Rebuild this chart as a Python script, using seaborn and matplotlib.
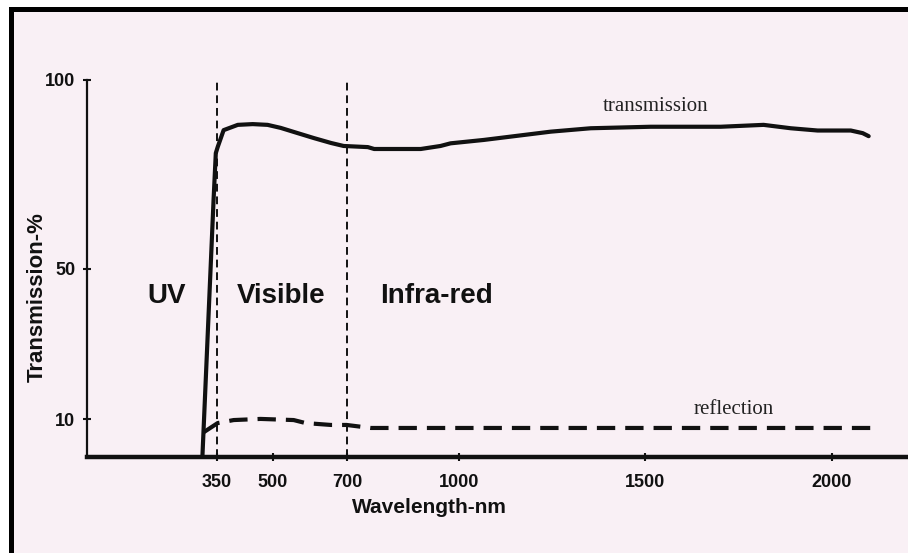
import numpy as np
import pandas as pd
import seaborn as sns
import matplotlib.pyplot as plt
from matplotlib.patches import Rectangle

# values
trans_wl = [311, 341, 347, 352, 368, 406, 446, 486, 521, 567, 610, 656, 690, 755, 772,
            897, 950, 977, 1066, 1246, 1353, 1514, 1702, 1817, 1890, 1962, 2051, 2083, 2099]
trans_pct = [0, 68.2, 80.6, 82.2, 86.7, 88.1, 88.3, 88.1, 87.3, 85.9, 84.6, 83.3, 82.5, 82.2, 81.7,
             81.7, 82.5, 83.2, 84.1, 86.3, 87.2, 87.6, 87.6, 88.1, 87.2, 86.6, 86.6, 85.9, 85.1]

refl_wl = [315, 352, 395, 467, 556, 588, 656, 698, 763, 1058, 2104]
refl_pct = [6.6, 9.0, 9.8, 10.1, 9.8, 9.0, 8.5, 8.5, 7.7, 7.7, 7.7]

region_edges = [350, 700]
x_ticks = [350, 500, 700, 1000, 1500, 2000]
y_ticks = [10, 50, 100]

bg = "#f9f0f5"
ink = "#111111"

sns.set_style("white")
plt.rcParams["font.family"] = ["Liberation Sans", "DejaVu Sans"]

fig = plt.figure(figsize=(9.08, 5.53), dpi=100)
fig.patch.set_facecolor("white")
# scanned page with black edge on top and left
fig.add_artist(Rectangle((10.5 / 908, -0.1), 1.2, (553 - 9.5) / 553 + 0.1,
                         transform=fig.transFigure, facecolor=bg, edgecolor="black",
                         linewidth=3.6, zorder=-1))

ax = fig.add_axes([86.5 / 908, 96 / 553, 819.8 / 908, 377 / 553])
ax.set_facecolor("none")

df_t = pd.DataFrame({"wl": trans_wl, "pct": trans_pct})
df_r = pd.DataFrame({"wl": refl_wl, "pct": refl_pct})

sns.lineplot(data=df_t, x="wl", y="pct", ax=ax, color=ink, linewidth=3,
             errorbar=None, sort=False)
sns.lineplot(data=df_r, x="wl", y="pct", ax=ax, color=ink, linewidth=3,
             errorbar=None, sort=False, linestyle=(0, (4.4, 2.4)))

ax.vlines(region_edges, 0, 100, colors=ink, linewidth=1.4, linestyles=(0, (4, 2.5)))

ax.set_xlim(0, 2200)
ax.set_ylim(0, 100)

sns.despine(ax=ax)
ax.spines["left"].set_linewidth(1.6)
ax.spines["bottom"].set_linewidth(3.2)
ax.spines["left"].set_color(ink)
ax.spines["bottom"].set_color(ink)

ax.set_xticks(x_ticks)
ax.set_yticks(y_ticks)
ax.tick_params(axis="both", direction="inout", length=6, width=1.5, color=ink,
               labelsize=13, labelcolor=ink, bottom=True, left=True)
ax.tick_params(axis="x", pad=9)
ax.tick_params(axis="y", pad=5)
for lab in ax.get_xticklabels() + ax.get_yticklabels():
    lab.set_fontweight("bold")

ax.set_xlabel("Wavelength-nm", fontsize=15, fontweight="bold", color=ink)
ax.xaxis.set_label_coords(0.418, -0.109)
ax.set_ylabel("Transmission-%", fontsize=16, fontweight="bold", color=ink)
ax.yaxis.set_label_coords(-0.047, 0.424)

# region names
ax.text(216, 42.7, "UV", fontsize=20, fontweight="bold", ha="center", va="center", color=ink)
ax.text(522, 42.7, "Visible", fontsize=20, fontweight="bold", ha="center", va="center", color=ink)
ax.text(939, 42.7, "Infra-red", fontsize=20, fontweight="bold", ha="center", va="center", color=ink)

# curve names
ax.text(1527, 93.1, "transmission", fontsize=15, family="Liberation Serif",
        ha="center", va="center", color="#222222")
ax.text(1737, 12.5, "reflection", fontsize=15, family="Liberation Serif",
        ha="center", va="center", color="#222222")

fig.savefig("out.png", dpi=100)
